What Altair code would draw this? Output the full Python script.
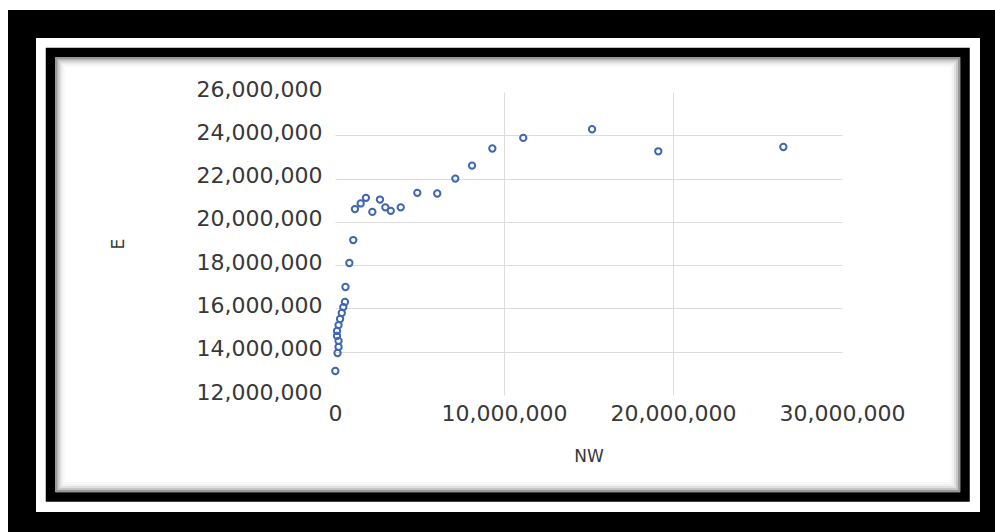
import altair as alt
import pandas as pd

# Data (NW vs E)
nw = [20000, 150000, 210000, 210000, 120000, 120000, 210000, 300000, 400000,
      490000, 590000, 620000, 850000, 1080000, 1180000, 1520000, 1830000,
      2210000, 2660000, 2980000, 3300000, 3890000, 4870000, 6050000, 7120000,
      8110000, 9310000, 11140000, 15210000, 19130000, 26530000]
e = [13110000, 13940000, 14220000, 14500000, 14730000, 14960000, 15230000,
     15510000, 15790000, 16060000, 16300000, 16990000, 18100000, 19160000,
     20590000, 20850000, 21110000, 20460000, 21030000, 20670000, 20510000,
     20670000, 21340000, 21310000, 22000000, 22600000, 23390000, 23880000,
     24280000, 23260000, 23460000]

x_ticks = [0, 10000000, 20000000, 30000000]
y_ticks = [12000000, 14000000, 16000000, 18000000, 20000000, 22000000,
           24000000, 26000000]

df = pd.DataFrame({"NW": nw, "E": e})
one = pd.DataFrame({"k": [0]})

W, H = 507, 303
PL, PT = 335, 92
FONT = "DejaVu Sans"
TXT = "#383838"


def frame(x1, y1, x2, y2, sw, color, opacity=1.0):
    # canvas coordinates -> plot coordinates
    return alt.Chart(one).mark_rect(
        filled=False, stroke=color, strokeWidth=sw, strokeOpacity=opacity
    ).encode(
        x=alt.value(x1 - PL), x2=alt.value(x2 - PL),
        y=alt.value(y1 - PT), y2=alt.value(y2 - PT),
    )


layers = [
    frame(22, 24, 994, 526, 28, "black"),
    frame(50.5, 52.5, 965, 497, 9.5, "black"),
]
shadow = [(1, 0.4), (3, 0.22), (5, 0.12), (7, 0.05), (9, 0.02)]
for inset, op in shadow:
    layers.append(frame(55.5 + inset, 57.5 + inset, 960 - inset, 492 - inset,
                        2, "black", op))

points = alt.Chart(df).mark_point(
    shape="circle", filled=False, size=40, strokeWidth=2, color="#3F67B1",
    opacity=1,
).encode(
    x=alt.X("NW:Q", title="NW",
            scale=alt.Scale(domain=[0, 30000000], nice=False, zero=False),
            axis=alt.Axis(values=x_ticks, format=",d", domain=False,
                          ticks=False, labelPadding=8, labelOverlap=False,
                          labelFlush=False,
                          gridOpacity={"condition": {
                              "test": "datum.value <= 0 || datum.value >= 30000000",
                              "value": 0}, "value": 1},
                          titleX=W / 2, titleY=61, titleBaseline="middle",
                          titleAlign="center")),
    y=alt.Y("E:Q", title="E",
            scale=alt.Scale(domain=[12000000, 26000000], nice=False,
                            zero=False),
            axis=alt.Axis(values=y_ticks, format=",d", domain=False,
                          ticks=False, labelPadding=13, labelOffset=-3,
                          labelOverlap=False, labelFlush=False,
                          gridOpacity={"condition": {
                              "test": "datum.value <= 12000000 || datum.value >= 26000000",
                              "value": 0}, "value": 1},
                          titleX=118 - PL, titleY=H / 2, titleAngle=270,
                          titleBaseline="middle", titleAlign="center")),
)
layers.append(points)

chart = alt.layer(*layers).properties(
    width=W, height=H,
    autosize=alt.AutoSizeParams(type="none"),
    padding={"left": PL, "top": PT, "right": 995 - PL - W,
             "bottom": 532 - PT - H},
    background="white",
).configure_view(stroke=None).configure_axis(
    labelFont=FONT, labelFontSize=22, labelColor=TXT,
    titleFont=FONT, titleFontSize=17, titleColor=TXT, titleFontWeight="normal",
    gridColor="#dcdcdc", gridWidth=1,
)

chart.save("out.html", embed_options={"renderer": "svg", "actions": False})
